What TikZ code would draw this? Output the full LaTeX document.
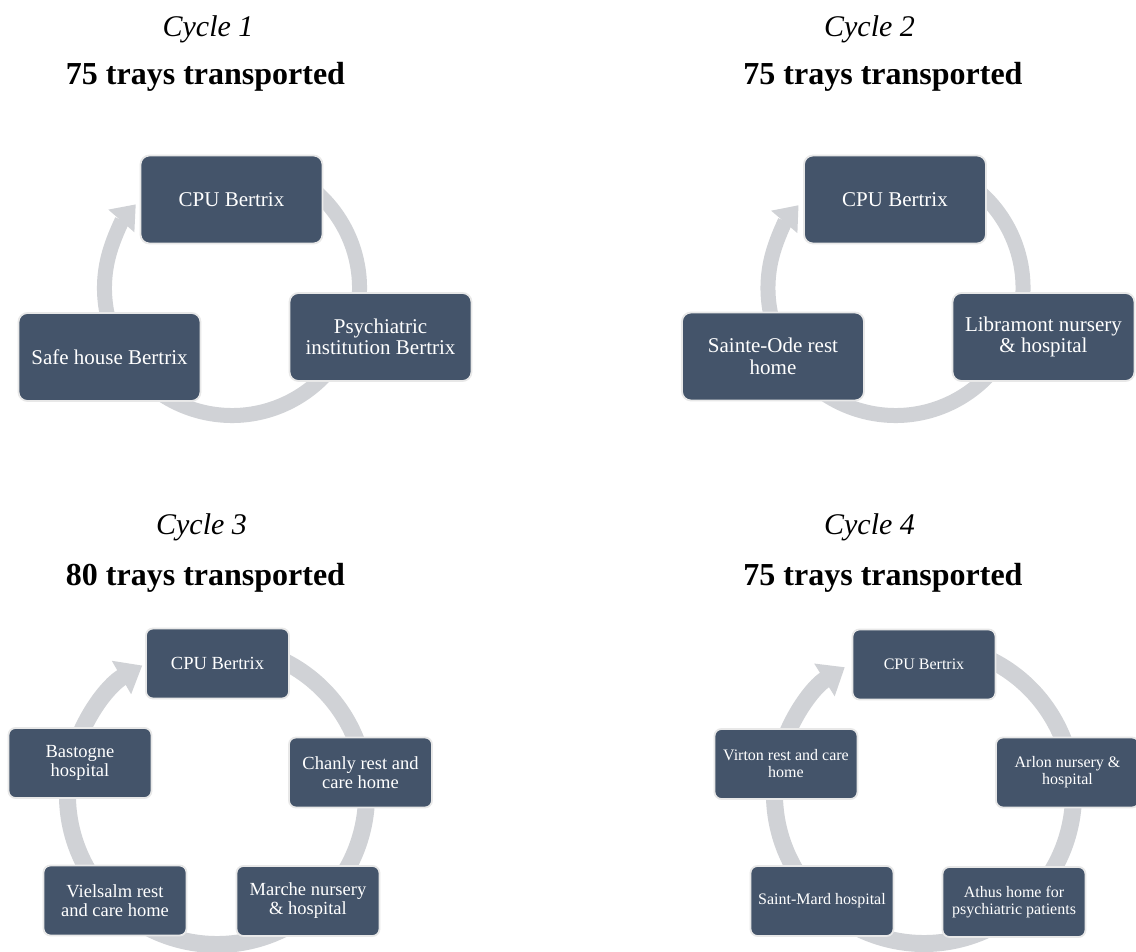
\documentclass[tikz,border=0pt]{standalone}
\usepackage{fontspec}
\setmainfont{Liberation Serif}
\usetikzlibrary{arrows.meta}
\definecolor{boxblue}{RGB}{68,84,106}
\definecolor{ringgray}{RGB}{208,210,214}
\definecolor{edgegray}{RGB}{232,232,232}
\begin{document}
\begin{tikzpicture}[x=1pt,y=1pt,
  cyctitle/.style={font=\fontsize{30}{36}\selectfont\itshape, inner sep=0pt, anchor=base},
  traytitle/.style={font=\fontsize{32}{38}\selectfont\bfseries, inner sep=0pt, anchor=base},
  boxbase/.style={draw=edgegray, line width=1.8pt, fill=boxblue, text=white, align=center, inner sep=0pt},
  bigbox/.style={boxbase, rounded corners=9pt, minimum width=182pt, minimum height=88pt, font=\fontsize{21}{21.5}\selectfont},
  midbox/.style={boxbase, rounded corners=7pt, minimum width=143pt, minimum height=70pt, font=\fontsize{18.5}{19}\selectfont},
  smallbox/.style={boxbase, rounded corners=7pt, minimum width=143pt, minimum height=70pt, font=\fontsize{16}{17}\selectfont},
  ringbig/.style={draw=ringgray, line width=15pt, -{Triangle[width=33pt,length=22pt]}},
  ringsmall/.style={draw=ringgray, line width=17pt, -{Triangle[width=37pt,length=24pt]}}
]
\useasboundingbox[fill=white] (0,0) rectangle (1136,952);

% ---------------- Cycle 1 ----------------
\node[cyctitle] (c1t) at (208,915) {Cycle 1};
\node[traytitle] (c1n) at (205.5,867) {75 trays transported};
\coordinate (r1) at (232,664);
\draw[ringbig] (r1) ++(75:127.5) arc[start angle=75, end angle=-221, radius=127.5];
\node[bigbox] (a1) at (231.5,752.5) {CPU Bertrix};
\node[bigbox] (a2) at (380.5,615) {Psychiatric\\institution Bertrix};
\node[bigbox] (a3) at (109.5,595) {Safe house Bertrix};

% ---------------- Cycle 2 ----------------
\node[cyctitle] (c2t) at (869.5,915) {Cycle 2};
\node[traytitle] (c2n) at (883,867) {75 trays transported};
\coordinate (r2) at (895.5,664);
\draw[ringbig] (r2) ++(75:127.5) arc[start angle=75, end angle=-220.5, radius=127.5];
\node[bigbox] (b1) at (895,752.5) {CPU Bertrix};
\node[bigbox] (b2) at (1043.5,615) {Libramont nursery\\\& hospital};
\node[bigbox] (b3) at (773,595.5) {Sainte-Ode rest\\home};

% ---------------- Cycle 3 ----------------
\node[cyctitle] (c3t) at (201.5,417) {Cycle 3};
\node[traytitle] (c3n) at (205.5,366) {80 trays transported};
\coordinate (r3) at (217,157);
\draw[ringsmall] (r3) ++(75:149.5) arc[start angle=75, end angle=-240, radius=149.5];
\node[midbox] (d1) at (217.5,288.5) {CPU Bertrix};
\node[midbox] (d2) at (360.5,179.5) {Chanly rest and\\care home};
\node[midbox] (d3) at (308,51) {Marche nursery\\\& hospital};
\node[midbox] (d4) at (115,51.5) {Vielsalm rest\\and care home};
\node[midbox] (d5) at (80,189) {Bastogne\\hospital};

% ---------------- Cycle 4 ----------------
\node[cyctitle] (c4t) at (869.5,417) {Cycle 4};
\node[traytitle] (c4n) at (883,366) {75 trays transported};
\coordinate (r4) at (924,158);
\draw[ringsmall] (r4) ++(75:149.5) arc[start angle=75, end angle=-238, radius=149.5];
\node[smallbox] (e1) at (924,287.5) {CPU Bertrix};
\node[smallbox] (e2) at (1067.5,179.5) {Arlon nursery \&\\hospital};
\node[smallbox] (e3) at (1014,50) {Athus home for\\psychiatric patients};
\node[smallbox] (e4) at (822,51) {Saint-Mard hospital};
\node[smallbox] (e5) at (786,188) {Virton rest and care\\home};
\end{tikzpicture}
\end{document}
